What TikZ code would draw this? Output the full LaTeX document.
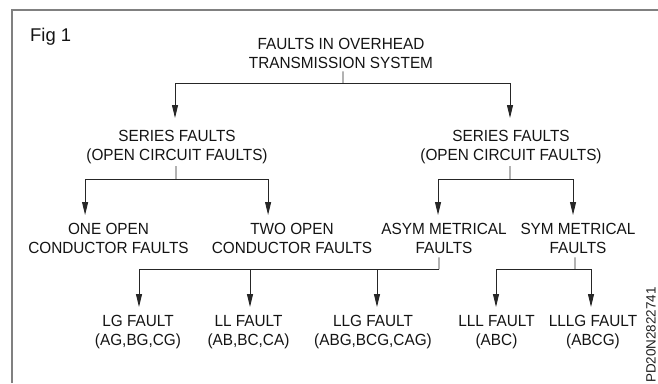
\documentclass[tikz,border=0pt]{standalone}
\usepackage{fontspec}
\setmainfont{Liberation Sans}
\newfontfamily\narrowsans[FakeStretch=0.95]{Liberation Sans}
\usetikzlibrary{arrows.meta}
\begin{document}
\begin{tikzpicture}[x=1bp,y=-1bp,
  lbl/.style={inner sep=0pt,outer sep=0pt,anchor=north,align=center,
    text=black!92,font=\narrowsans\fontsize{16.2}{19}\selectfont},
  wire/.style={draw=black!85,line width=0.9bp},
  arr/.style={wire,-{Triangle[length=13bp,width=6bp]}},
  frameline/.style={draw=black!50,line width=2bp}]
\useasboundingbox (0,0) rectangle (658,383);

% frame
\draw[frameline] (12,383) -- (12,10) -- (658,10);

\node[anchor=base west,inner sep=0pt,text=black!92,font=\fontsize{18.5}{22}\selectfont] (fig) at (30,41) {Fig 1};

% labels
\node[lbl] (title) at (341,38) {FAULTS IN OVERHEAD\\TRANSMISSION SYSTEM};
\node[lbl] (sfL) at (177,130) {SERIES FAULTS\\(OPEN CIRCUIT FAULTS)};
\node[lbl] (sfR) at (511,130) {SERIES FAULTS\\(OPEN CIRCUIT FAULTS)};
\node[lbl] (one) at (108.5,223) {ONE OPEN\\CONDUCTOR FAULTS};
\node[lbl] (two) at (292,223) {TWO OPEN\\CONDUCTOR FAULTS};
\node[lbl] (asym) at (444,223) {ASYM METRICAL\\FAULTS};
\node[lbl] (sym) at (578,223) {SYM METRICAL\\FAULTS};
\node[lbl] (lg) at (138,315) {LG FAULT\\(AG,BG,CG)};
\node[lbl] (ll) at (248.5,315) {LL FAULT\\(AB,BC,CA)};
\node[lbl] (llg) at (373,315) {LLG FAULT\\(ABG,BCG,CAG)};
\node[lbl] (lll) at (496.5,315) {LLL FAULT\\(ABC)};
\node[lbl] (lllg) at (593,315) {LLLG FAULT\\(ABCG)};

\node[rotate=90,inner sep=0pt,text=black!88,font=\fontsize{13.5}{15}\selectfont] (code) at (651,335) {PD20N2822741};

% bus junctions
\coordinate (j0) at (343,83);
\coordinate (j1) at (176,179);
\coordinate (j2) at (510,179);
\coordinate (j3) at (439,269);
\coordinate (j4) at (575,269);

% level 1
\draw[wire,shorten <=3bp] ([xshift=2]title.south) -- (j0);
\draw[arr,shorten >=12bp] (j0) -| ([xshift=-2]sfL.north);
\draw[arr,shorten >=12bp] (j0) -| ([xshift=-1]sfR.north);

% level 2
\draw[wire,shorten <=2.5bp] ([xshift=-1]sfL.south) -- (j1);
\draw[arr,shorten >=8bp] (j1) -| ([xshift=-23.5]one.north);
\draw[arr,shorten >=8bp] (j1) -| ([xshift=-24]two.north);
\draw[wire,shorten <=2.5bp] ([xshift=-1]sfR.south) -- (j2);
\draw[arr,shorten >=8bp] (j2) -| ([xshift=-6]asym.north);
\draw[arr,shorten >=8bp] (j2) -| ([xshift=-5]sym.north);

% level 3
\draw[wire,shorten <=4bp] ([xshift=-5]asym.south) -- (j3);
\draw[arr,shorten >=8bp] (j3) -| ([xshift=1]lg.north);
\draw[arr,shorten >=8bp] (j3) -| ([xshift=1.5]ll.north);
\draw[arr,shorten >=8bp] (j3) -| ([xshift=4]llg.north);
\draw[wire,shorten <=4bp] ([xshift=-3]sym.south) -- (j4);
\draw[arr,shorten >=8bp] (j4) -| ([xshift=-0.5]lll.north);
\draw[arr,shorten >=8bp] (j4) -| ([xshift=-2]lllg.north);
\end{tikzpicture}
\end{document}
